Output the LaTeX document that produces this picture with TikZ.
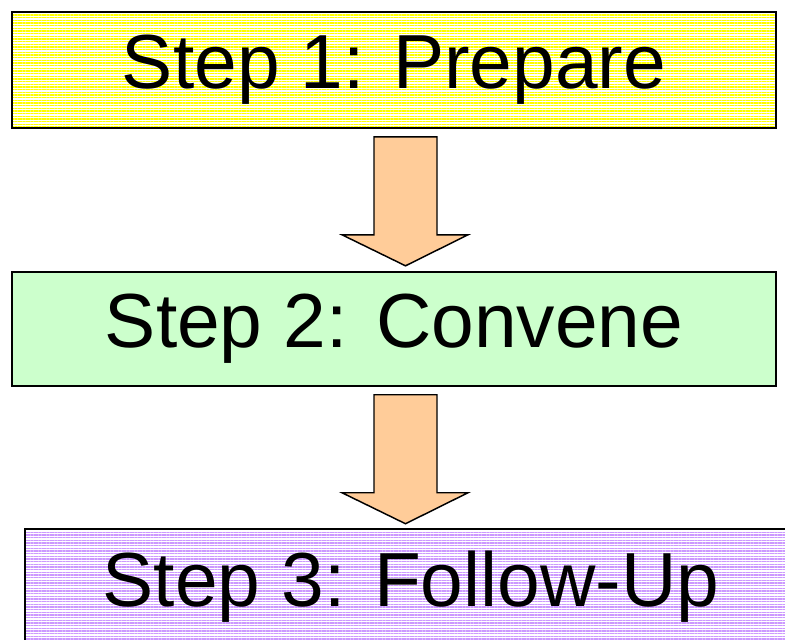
\documentclass[tikz,border=0pt]{standalone}
\usepackage{fontspec}
\setmainfont{Liberation Sans}
\usetikzlibrary{calc,patterns.meta}

\definecolor{stepyellow}{RGB}{255,255,0}
\definecolor{stepgreen}{RGB}{204,255,204}
\definecolor{steppurple}{RGB}{204,153,255}
\definecolor{arrowpeach}{RGB}{255,204,153}

\tikzset{
  stepbox/.style={draw=black, line width=1.1pt, inner sep=0pt, text=black,
    font=\fontsize{57.5}{60}\selectfont},
  stripes/.style={preaction={fill=white},
    pattern={Lines[angle=0, distance=2pt, line width=1.2pt]}, pattern color=#1},
  blockarrow/.style={draw=black, line width=1.1pt, fill=arrowpeach, line join=miter},
}

\begin{document}
\begin{tikzpicture}[x=0.75pt,y=0.75pt,yscale=-1,xscale=1]
\useasboundingbox (0,0) rectangle (785,639);
\clip (0,0) rectangle (785,639);

% Step boxes
\node[stepbox, stripes=stepyellow, minimum width=764*0.75pt, minimum height=116*0.75pt] (prep) at (394,70) {Step 1: Prepare};
\node[stepbox, fill=stepgreen, minimum width=764*0.75pt, minimum height=114*0.75pt] (conv) at (394,329) {Step 2: Convene};
\node[stepbox, stripes=steppurple, minimum width=772*0.75pt, minimum height=116*0.75pt] (follow) at (411,587) {Step 3: Follow-Up};

% Block arrows between the steps
\foreach \a/\b in {prep/conv, conv/follow}
  \draw[blockarrow] ($(\a.south)+(-20,8)$) -- ++(63,0) -- ++(0,98) -- ++(31,0)
    -- ($(\a.south)+(11.5,137)$) -- ($(\a.south)+(-52,106)$) -- ++(32,0) -- cycle;

\end{tikzpicture}
\end{document}
